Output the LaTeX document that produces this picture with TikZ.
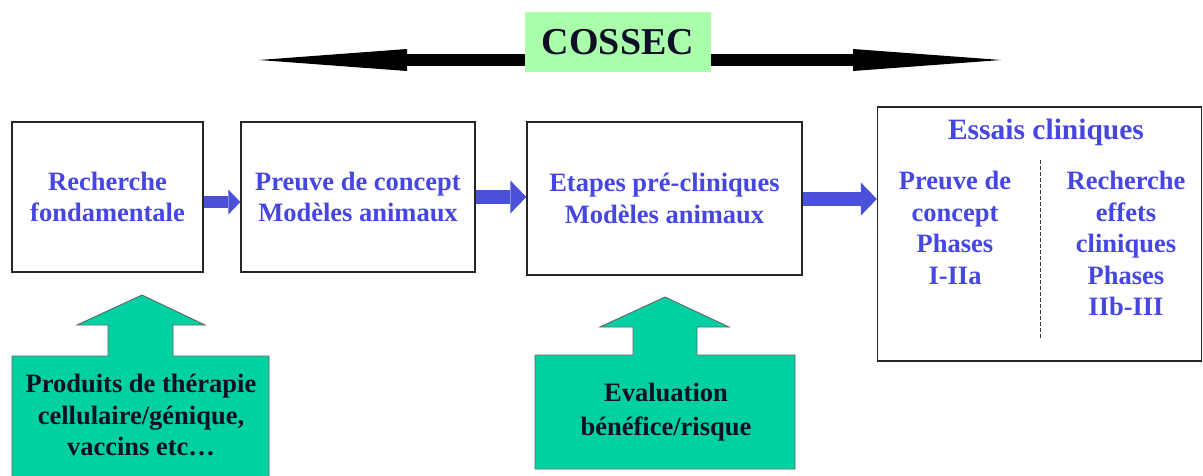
\documentclass[tikz,border=0pt]{standalone}
\usepackage{fontspec}
\setmainfont{Liberation Serif}
\usetikzlibrary{arrows.meta}
\definecolor{txtblue}{RGB}{70,70,225}
\definecolor{arrblue}{RGB}{74,80,216}
\definecolor{tealgreen}{RGB}{0,208,162}
\definecolor{lightgreen}{RGB}{170,255,170}
\definecolor{darktxt}{RGB}{15,15,40}
\newcommand\myfs{\fontsize{26.5}{31.5}\selectfont}
\begin{document}
\begin{tikzpicture}[x=1pt,y=-1pt,
  stagebox/.style={draw=black!85, line width=1.3pt, fill=white, align=center,
    font=\bfseries\myfs, text=txtblue, inner sep=0pt},
  bluetxt/.style={align=center, font=\bfseries\myfs, text=txtblue, inner sep=0pt},
  darklabel/.style={align=center, font=\bfseries\myfs, text=darktxt, inner sep=0pt},
  gshape/.style={fill=tealgreen, draw=black!60, line width=0.9pt},
  barrow/.style={draw=arrblue, line width=14pt, -{Triangle[length=16pt,width=33pt,line width=0pt]}},
  karrow/.style={draw=black, line width=12pt, -{Triangle[length=148pt,width=22pt,line width=0pt]}}]
\useasboundingbox (0,0) rectangle (1203,475);

% COSSEC
\node[fill=lightgreen, minimum width=186pt, minimum height=60pt, inner sep=0pt,
      font=\bfseries\fontsize{38}{40}\selectfont, text=darktxt] (cossec) at (618,42) {COSSEC};
\coordinate (kl) at (259,60);
\coordinate (kr) at (1001,60);
\draw[karrow] (cossec.west |- kl) -- (kl);
\draw[karrow] (cossec.east |- kr) -- (kr);

% stage boxes
\node[stagebox, minimum width=191pt, minimum height=150pt] (b1) at (107.5,197) {Recherche\\fondamentale};
\node[stagebox, minimum width=234pt, minimum height=150pt] (b2) at (358,197) {Preuve de concept\\Modèles animaux};
\node[stagebox, minimum width=275pt, minimum height=153pt] (b3) at (664.5,198.5) {Etapes pré-cliniques\\Modèles animaux};
\node[stagebox, minimum width=324pt, minimum height=254pt] (b4) at (1039.5,234) {};

\node[bluetxt, font=\bfseries\fontsize{29.5}{32}\selectfont] (t4) at (1046,132) {Essais cliniques};
\node[bluetxt, anchor=north] (c1) at (955,171) {Preuve de\\concept\\Phases\\I-IIa};
\node[bluetxt, anchor=north] (c2) at (1126,171) {Recherche\\effets\\cliniques\\Phases\\IIb-III};
\coordinate (dtop) at (1040,160);
\coordinate (dbot) at (1040,340);
\draw[black!80, line width=1pt, dash pattern=on 4pt off 2pt] (dtop) -- (dbot);

% blue arrows
\draw[barrow, line width=12pt, -{Triangle[length=12pt,width=25pt,line width=0pt]}] (b1.east |- 0,202) -- (b2.west |- 0,202);
\draw[barrow] (b2.east |- 0,197) -- (b3.west |- 0,197);
\draw[barrow] (b3.east |- 0,199) -- (b4.west |- 0,199);

% green up-arrow shapes
\draw[gshape] (12,477) -- (12,356) -- (108,356) -- (108,325) -- (77,325) -- (142,295)
  -- (205,325) -- (173,325) -- (173,356) -- (269,356) -- (269,477) -- cycle;
\node[darklabel] (g1) at (141,415) {Produits de thérapie\\cellulaire/génique,\\vaccins etc…};

\draw[gshape] (535,469) -- (535,355) -- (633,355) -- (633,327) -- (600,327) -- (665,297)
  -- (729,327) -- (697,327) -- (697,355) -- (795,355) -- (795,469) -- cycle;
\node[darklabel, font=\bfseries\fontsize{26.5}{34}\selectfont] (g2) at (666,412) {Evaluation\\bénéfice/risque};
\end{tikzpicture}
\end{document}
